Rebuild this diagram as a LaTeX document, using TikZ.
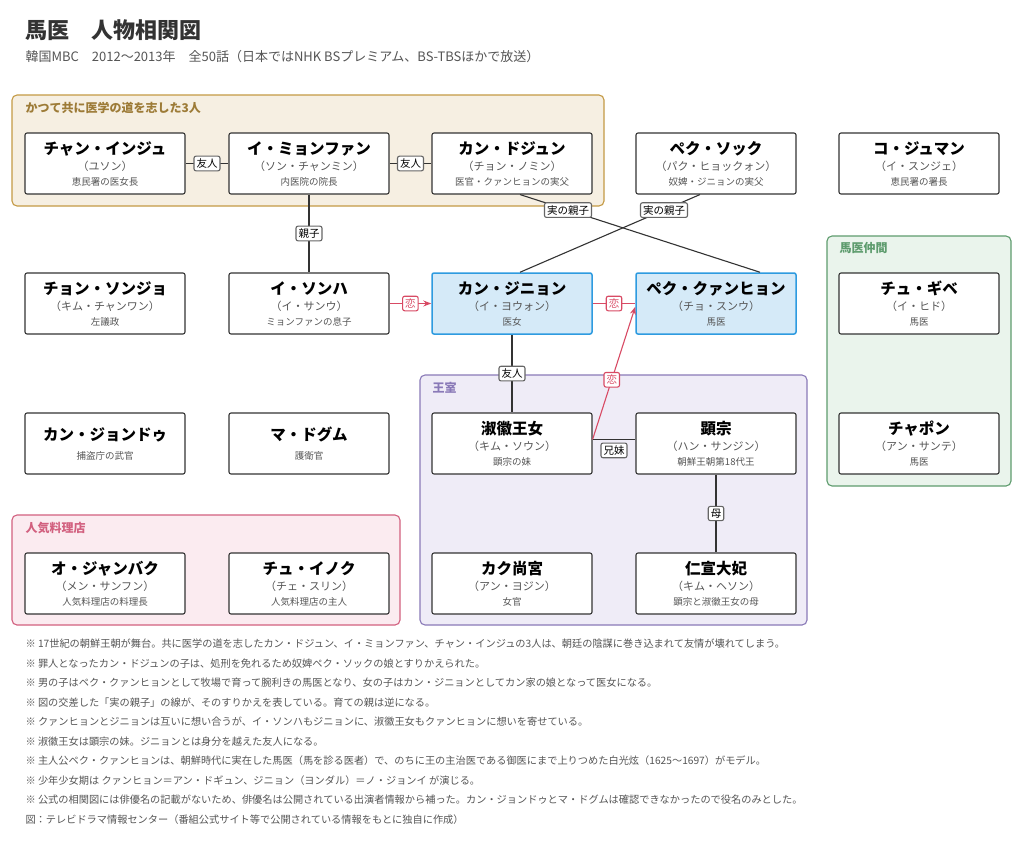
\documentclass[tikz,border=0pt]{standalone}
\usepackage{fontspec}
\setmainfont{Noto Sans CJK JP}
\usetikzlibrary{arrows.meta,positioning,calc}
\definecolor{ink}{HTML}{333333}
\definecolor{subgray}{HTML}{555555}
\definecolor{tanfill}{HTML}{F6EFE2}
\definecolor{tanline}{HTML}{C49A45}
\definecolor{greenfill}{HTML}{EAF4EC}
\definecolor{greenline}{HTML}{5E9C6E}
\definecolor{purpfill}{HTML}{EFECF7}
\definecolor{purpline}{HTML}{8A7AB8}
\definecolor{pinkfill}{HTML}{FBEBF0}
\definecolor{pinkline}{HTML}{D2607F}
\definecolor{bluefill}{HTML}{D5EAF8}
\definecolor{blueline}{HTML}{2E9BE0}
\definecolor{lovered}{HTML}{D84A64}
\newcommand{\who}[3]{{\fontsize{15.5}{19}\selectfont\bfseries #1}\\[4pt]{\fontsize{11}{15}\selectfont\color{subgray}#2}\\[3pt]{\fontsize{9.5}{12}\selectfont\color{subgray}#3}}
\tikzset{
  person/.style={draw=ink, line width=1.1pt, fill=white, rounded corners=2pt,
    minimum width=160pt, minimum height=61pt, align=center, inner sep=0pt},
  hero/.style={person, draw=blueline, fill=bluefill, line width=1.5pt},
  group/.style={rounded corners=5pt, line width=1.1pt},
  tag/.style={draw=gray!80!black, fill=white, rounded corners=2pt, inner sep=2.5pt,
    font=\fontsize{10.5}{12}\selectfont},
  lovetag/.style={tag, draw=lovered, text=lovered},
  link/.style={draw=ink, line width=1.1pt},
  love/.style={draw=lovered, line width=1.1pt}
}
\begin{document}
\begin{tikzpicture}[x=1pt, y=-1pt, >=Stealth]
  \useasboundingbox (0,0) rectangle (1024,843);
  \fill[white] (0,0) rectangle (1024,843);

  % Title
  \node[anchor=west, font=\fontsize{22}{25}\selectfont\bfseries, text=ink] (title) at (22,30) {馬医　人物相関図};
  \node[anchor=west, font=\fontsize{13}{15}\selectfont, text=subgray] (subtitle) at (22,57)
    {韓国MBC　2012～2013年　全50話（日本ではNHK BSプレミアム、BS-TBSほかで放送）};

  % Groups
  \draw[group, fill=tanfill, draw=tanline] (12,95) rectangle (604,206);
  \node[anchor=west, text=tanline!80!black, font=\fontsize{12}{14}\selectfont\bfseries] (gfriends) at (22,108) {かつて共に医学の道を志した3人};
  \draw[group, fill=greenfill, draw=greenline] (827,236) rectangle (1011,486);
  \node[anchor=west, text=greenline, font=\fontsize{12}{14}\selectfont\bfseries] (gvets) at (836,248) {馬医仲間};
  \draw[group, fill=purpfill, draw=purpline] (420,375) rectangle (807,625);
  \node[anchor=west, text=purpline, font=\fontsize{12}{14}\selectfont\bfseries] (groyal) at (429,388) {王室};
  \draw[group, fill=pinkfill, draw=pinkline] (12,515) rectangle (400,625);
  \node[anchor=west, text=pinkline, font=\fontsize{12}{14}\selectfont\bfseries] (gshop) at (22,528) {人気料理店};

  % People
  \node[person] (injju) at (105,163.5) {\who{チャン・インジュ}{（ユソン）}{恵民署の医女長}};
  \node[person] (myong) at (309,163.5) {\who{イ・ミョンファン}{（ソン・チャンミン）}{内医院の院長}};
  \node[person] (dojun) at (512,163.5) {\who{カン・ドジュン}{（チョン・ノミン）}{医官・クァンヒョンの実父}};
  \node[person] (sok) at (716,163.5) {\who{ペク・ソック}{（パク・ヒョックォン）}{奴婢・ジニョンの実父}};
  \node[person] (juman) at (919,163.5) {\who{コ・ジュマン}{（イ・スンジェ）}{恵民署の署長}};
  \node[person] (sonjo) at (105,303.5) {\who{チョン・ソンジョ}{（キム・チャンワン）}{左議政}};
  \node[person] (sonha) at (309,303.5) {\who{イ・ソンハ}{（イ・サンウ）}{ミョンファンの息子}};
  \node[hero] (jinyon) at (512,303.5) {\who{カン・ジニョン}{（イ・ヨウォン）}{医女}};
  \node[hero] (kwang) at (716,303.5) {\who{ペク・クァンヒョン}{（チョ・スンウ）}{馬医}};
  \node[person] (gibe) at (919,303.5) {\who{チュ・ギベ}{（イ・ヒド）}{馬医}};
  \node[person] (jondu) at (105,443.5) {{\fontsize{15.5}{19}\selectfont\bfseries カン・ジョンドゥ}\\[7pt]{\fontsize{9.5}{12}\selectfont\color{subgray}捕盗庁の武官}};
  \node[person] (dogum) at (309,443.5) {{\fontsize{15.5}{19}\selectfont\bfseries マ・ドグム}\\[7pt]{\fontsize{9.5}{12}\selectfont\color{subgray}護衛官}};
  \node[person] (shukki) at (512,443.5) {\who{淑徽王女}{（キム・ソウン）}{顕宗の妹}};
  \node[person] (kenso) at (716,443.5) {\who{顕宗}{（ハン・サンジン）}{朝鮮王朝第18代王}};
  \node[person] (chapon) at (919,443.5) {\who{チャポン}{（アン・サンテ）}{馬医}};
  \node[person] (janbak) at (105,583.5) {\who{オ・ジャンバク}{（メン・サンフン）}{人気料理店の料理長}};
  \node[person] (inok) at (309,583.5) {\who{チュ・イノク}{（チェ・スリン）}{人気料理店の主人}};
  \node[person] (kaku) at (512,583.5) {\who{カク尚宮}{（アン・ヨジン）}{女官}};
  \node[person] (insun) at (716,583.5) {\who{仁宣大妃}{（キム・ヘソン）}{顕宗と淑徽王女の母}};

  % Relations
  \draw[link] (injju) -- node[tag] {友人} (myong);
  \draw[link] (myong) -- node[tag] {友人} (dojun);
  \draw[link] (myong) -- node[tag] {親子} (sonha);
  \draw[link] ($(dojun.south)+(8,0)$) -- node[tag, pos=0.2] {実の親子} ($(kwang.north)+(44,0)$);
  \draw[link] ($(sok.south)+(-16,0)$) -- node[tag, pos=0.2] {実の親子} ($(jinyon.north)+(8,0)$);
  \draw[love, ->] (sonha) -- node[lovetag] {恋} (jinyon);
  \draw[love] (jinyon) -- node[lovetag] {恋} (kwang);
  \draw[love, ->] ($(shukki.east)+(0,-4)$) -- node[lovetag, pos=0.45] {恋} ($(kwang.south west)+(0,-28)$);
  \draw[link] (jinyon) -- node[tag] {友人} (shukki);
  \draw[link] ($(shukki.east)+(0,-4)$) -- node[tag, below=3pt] {兄妹} ($(kenso.west)+(0,-4)$);
  \draw[link] (kenso) -- node[tag] {母} (insun);

  % Notes
  \begin{scope}[every node/.style={anchor=west, text=subgray, font=\fontsize{10.2}{12}\selectfont}]
    \node (n1) at (22,644) {※ 17世紀の朝鮮王朝が舞台。共に医学の道を志したカン・ドジュン、イ・ミョンファン、チャン・インジュの3人は、朝廷の陰謀に巻き込まれて友情が壊れてしまう。};
    \node (n2) at (22,663.5) {※ 罪人となったカン・ドジュンの子は、処刑を免れるため奴婢ペク・ソックの娘とすりかえられた。};
    \node (n3) at (22,683) {※ 男の子はペク・クァンヒョンとして牧場で育って腕利きの馬医となり、女の子はカン・ジニョンとしてカン家の娘となって医女になる。};
    \node (n4) at (22,702.5) {※ 図の交差した「実の親子」の線が、そのすりかえを表している。育ての親は逆になる。};
    \node (n5) at (22,722) {※ クァンヒョンとジニョンは互いに想い合うが、イ・ソンハもジニョンに、淑徽王女もクァンヒョンに想いを寄せている。};
    \node (n6) at (22,741.5) {※ 淑徽王女は顕宗の妹。ジニョンとは身分を越えた友人になる。};
    \node (n7) at (22,761) {※ 主人公ペク・クァンヒョンは、朝鮮時代に実在した馬医（馬を診る医者）で、のちに王の主治医である御医にまで上りつめた白光炫（1625～1697）がモデル。};
    \node (n8) at (22,780.5) {※ 少年少女期は クァンヒョン＝アン・ドギュン、ジニョン（ヨンダル）＝ノ・ジョンイ が演じる。};
    \node (n9) at (22,800) {※ 公式の相関図には俳優名の記載がないため、俳優名は公開されている出演者情報から補った。カン・ジョンドゥとマ・ドグムは確認できなかったので役名のみとした。};
    \node (n10) at (22,819.5) {図：テレビドラマ情報センター（番組公式サイト等で公開されている情報をもとに独自に作成）};
  \end{scope}
\end{tikzpicture}
\end{document}
